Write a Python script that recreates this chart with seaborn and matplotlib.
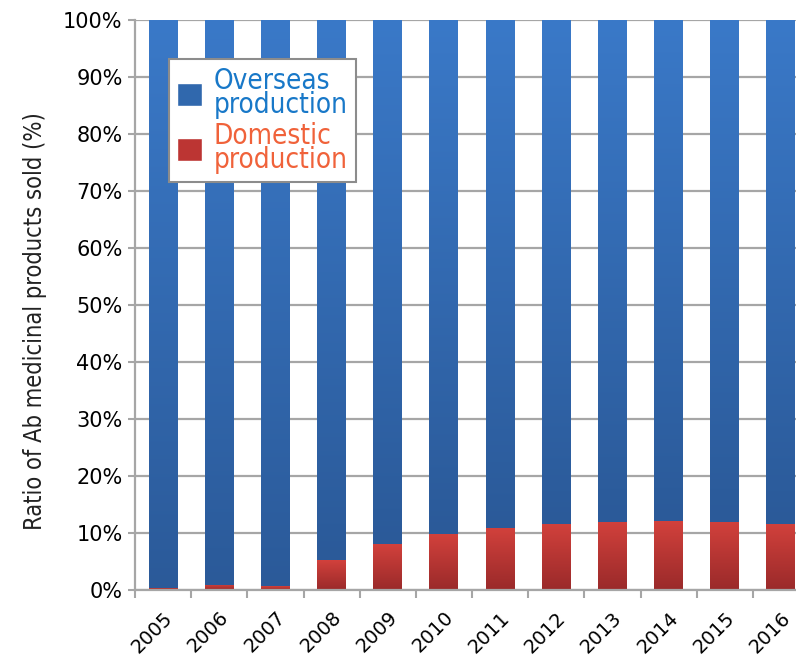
import numpy as np
import pandas as pd
import matplotlib
matplotlib.use("Agg")
import matplotlib.pyplot as plt
import matplotlib.transforms as mtransforms
from matplotlib.colors import LinearSegmentedColormap
from matplotlib.patches import Patch
import seaborn as sns

years = ["2005", "2006", "2007", "2008", "2009", "2010",
         "2011", "2012", "2013", "2014", "2015", "2016"]
domestic = [0.4, 0.9, 0.7, 5.2, 8.0, 9.8, 10.9, 11.6, 12.0, 12.1, 12.0, 11.6]
overseas = [100 - d for d in domestic]

df = pd.DataFrame({"Year": years, "Domestic": domestic, "Overseas": overseas})
df["Total"] = df["Domestic"] + df["Overseas"]

sns.set_style("white")
narrow = dict(family="DejaVu Sans", stretch="condensed")

fig = plt.figure(figsize=(7.96, 6.63), dpi=100)
ax = fig.add_axes([135 / 796, 73 / 663, 674 / 796, 570 / 663])

blue = "#3068ad"
red = "#bc3533"
blue_grad = LinearSegmentedColormap.from_list("b", ["#2b5a99", "#3a79c8"])
red_grad = LinearSegmentedColormap.from_list("r", ["#9a2a2a", "#d2413c"])

sns.barplot(data=df, x="Year", y="Total", color=blue, width=0.515,
            saturation=1, linewidth=0, ax=ax)
n_blue = len(ax.patches)
sns.barplot(data=df, x="Year", y="Domestic", color=red, width=0.515,
            saturation=1, linewidth=0, ax=ax)

# vertical gradient fill on each bar, clipped to the bar itself
grad = np.linspace(0, 1, 256).reshape(-1, 1)
for i, p in enumerate(ax.patches):
    cmap = blue_grad if i < n_blue else red_grad
    p.set_zorder(3 if i < n_blue else 4)
    x0, y0 = p.get_x(), p.get_y()
    w, h = p.get_width(), p.get_height()
    if i < n_blue:
        y0 = domestic[i]
        h = 100 - y0
    if h <= 0:
        continue
    im = ax.imshow(grad, cmap=cmap, aspect="auto", origin="lower",
                   extent=(x0, x0 + w, y0, y0 + h),
                   zorder=3.5 if i < n_blue else 4.5)
    im.set_clip_path(p)

ax.set_ylim(0, 100)
ax.set_xlim(-0.5, len(years) - 0.5)
ax.set_yticks(np.arange(0, 101, 10))
ax.set_yticklabels([f"{v}%" for v in range(0, 101, 10)], fontsize=15,
                   family="DejaVu Sans", color="black")
ax.yaxis.grid(True, color="#a6a6a6", linewidth=1.6, zorder=0)
ax.set_axisbelow(True)

ax.set_xticks(range(len(years)))
ax.set_xticklabels(years, rotation=45, ha="right", rotation_mode="anchor",
                   fontsize=14, family="DejaVu Sans", color="black")
offset = mtransforms.ScaledTranslation(2 / 100, 0, fig.dpi_scale_trans)
for lbl in ax.get_xticklabels():
    lbl.set_transform(lbl.get_transform() + offset)
ax.tick_params(axis="x", which="major", length=0, pad=13)
ax.set_xticks(np.arange(-0.5, len(years), 1), minor=True)
ax.tick_params(axis="x", which="minor", length=6, color="#a6a6a6", width=1.5,
               direction="out", bottom=True)
ax.tick_params(axis="y", length=5, color="#a6a6a6", width=1.5, left=True,
               direction="out", pad=4)

for side in ["top", "right"]:
    ax.spines[side].set_visible(False)
for side in ["left", "bottom"]:
    ax.spines[side].set_color("#a6a6a6")
    ax.spines[side].set_linewidth(1.6)
    ax.spines[side].set_zorder(6)

ax.set_xlabel("")
ax.set_ylabel("Ratio of Ab medicinal products sold (%)", fontsize=17,
              color="#222222", **narrow)
ax.yaxis.set_label_coords(-0.13, 0.472)

handles = [Patch(facecolor=blue, label="Overseas\nproduction"),
           Patch(facecolor=red, label="Domestic\nproduction")]
leg = ax.legend(handles=handles, loc="upper left",
                bbox_to_anchor=(20 / 674, 1 - 25 / 570),
                frameon=True, fancybox=False, framealpha=1, handlelength=0.9,
                handleheight=0.9, handletextpad=0.4, labelspacing=0.12,
                borderpad=0.3, prop=dict(size=20, **narrow))
leg.get_frame().set_edgecolor("#8c8c8c")
leg.get_frame().set_linewidth(1.5)
leg.set_zorder(10)
leg.texts[0].set_color("#1878c8")
leg.texts[1].set_color("#f0623a")
for t in leg.texts:
    t.set_linespacing(0.8)

fig.savefig("out.png", dpi=100)
